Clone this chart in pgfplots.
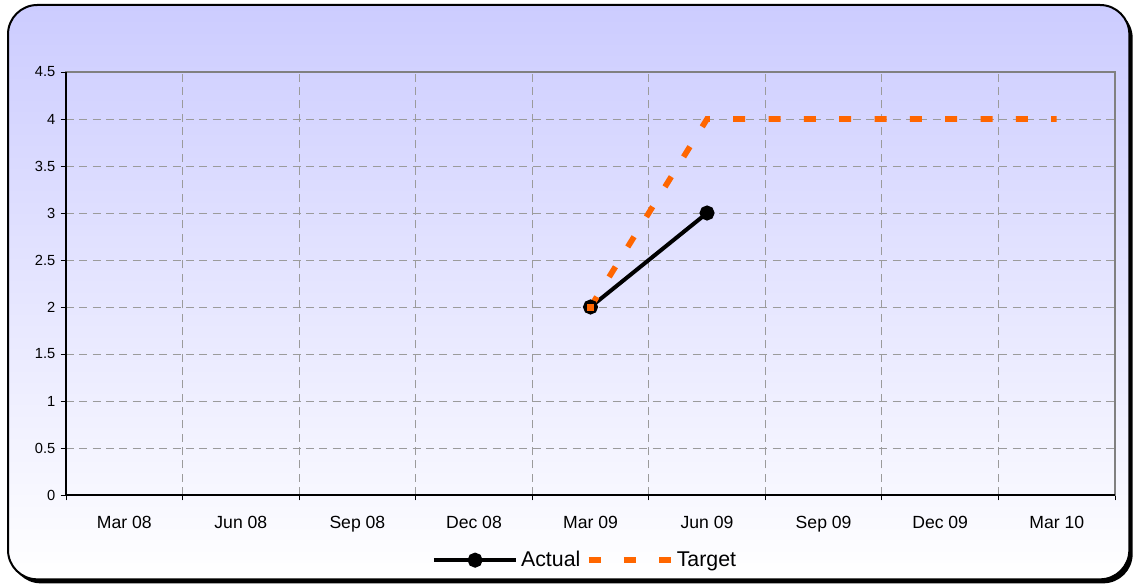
\documentclass[border=0pt]{standalone}
\usepackage{pgfplots}
\pgfplotsset{compat=1.18}
\usepackage{fontspec}
\setmainfont{Liberation Sans}
\definecolor{bgtop}{RGB}{204,204,255}
\definecolor{tgt}{RGB}{255,102,0}
\definecolor{gridc}{RGB}{155,155,155}
\definecolor{boxc}{RGB}{128,128,128}
\begin{document}
\begin{tikzpicture}
\useasboundingbox (0,0) rectangle (850.5pt,-438pt);
\fill[black,rounded corners=22pt] (8.5pt,-6.5pt) rectangle (849.5pt,-437.5pt);
\shade[top color=bgtop,bottom color=white,draw=black,line width=1.5pt,rounded corners=22pt] (6pt,-3.75pt) rectangle (847pt,-434.5pt);
\begin{axis}[
  at={(49.5pt,-371.25pt)}, anchor=south west,
  scale only axis, width=786.75pt, height=317.25pt,
  xmin=0, xmax=9, ymin=0, ymax=4.5,
  xtick={0.5,1.5,2.5,3.5,4.5,5.5,6.5,7.5,8.5},
  xticklabels={Mar 08,Jun 08,Sep 08,Dec 08,Mar 09,Jun 09,Sep 09,Dec 09,Mar 10},
  minor xtick={0,1,2,3,4,5,6,7,8,9},
  ytick={0,0.5,1,1.5,2,2.5,3,3.5,4,4.5},
  xtick pos=bottom, ytick pos=left,
  tick align=outside,
  major tick length=4pt, minor tick length=4pt,
  every major x tick/.append style={draw=none},
  tick style={black, line width=0.75pt},
  xminorgrids, ymajorgrids,
  minor grid style={gridc, line width=0.75pt, dash pattern=on 6pt off 4pt},
  major grid style={gridc, line width=0.75pt, dash pattern=on 6pt off 4pt},
  axis line style={boxc, line width=1pt},
  /pgf/number format/assume math mode=true,
  yticklabel style={font=\fontsize{11}{13}\selectfont, xshift=-0.5pt},
  xticklabel style={font=\fontsize{13.2}{15}\selectfont, yshift=-8pt},
  legend style={at={(0.495,-0.154)}, anchor=center, draw=none, fill=none,
    font=\fontsize{16}{18}\selectfont, legend columns=2,
    /tikz/every even column/.append style={column sep=2pt}},
  legend image code/.code={\draw[mark repeat=2,mark phase=2,#1] plot coordinates {(0pt,0pt) (31pt,0pt) (62pt,0pt)};},
  after end axis/.code={
    \draw[black, line width=1.2pt] (rel axis cs:0,1) -- (rel axis cs:0,0) -- (rel axis cs:1,0);
  },
]
\addplot[black, line width=3pt, mark=*, mark size=4.1pt, mark options={solid}] coordinates {(4.5,2) (5.5,3)};
\addlegendentry{Actual}
\addplot[tgt, line width=4.3pt, dash pattern=on 9pt off 17.5pt] coordinates {(4.5,2) (5.5,4) (6.5,4) (7.5,4) (8.5,4)};
\addlegendentry{Target}
\addplot[forget plot, only marks, mark=square*, mark size=3pt, mark options={fill=tgt, draw=black, line width=0.6pt}] coordinates {(4.5,2)};
\end{axis}
\end{tikzpicture}
\end{document}
